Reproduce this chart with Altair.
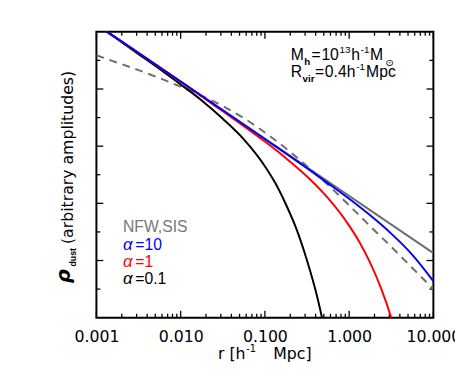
import pandas as pd
import altair as alt

# ---------------- data ----------------
# y is in "tick units" of the (arbitrary) log-density axis: 0 = bottom, 5 = top
X_TICK_VALUES = [0.001, 0.01, 0.1, 1, 10]
Y_MAJOR = [1, 2, 3, 4]
Y_MINOR = [0.5, 1.5, 2.5, 3.5, 4.5]

SIS_LOGR = [-3.0, 1.0]
SIS_Y = [5.13, 1.13]

NFW_LOGR = [-3.0, -2.75, -2.5, -2.25, -2.0, -1.75, -1.5, -1.25, -1.0, -0.75, -0.5,
            -0.25, 0.0, 0.25, 0.5, 0.75, 1.0]
NFW_Y = [4.59, 4.46, 4.33, 4.19, 4.04, 3.88, 3.70, 3.49, 3.24, 2.96, 2.65,
         2.32, 1.965, 1.60, 1.24, 0.87, 0.50]

A10_LOGR = [-3.0, -2.0, -1.0, -0.5, -0.25, 0.0, 0.25, 0.5, 0.75, 1.0]
A10_Y = [5.13, 4.13, 3.125, 2.614, 2.35, 2.08, 1.79, 1.47, 1.10, 0.64]

A1_LOGR = [-3.0, -2.5, -2.0, -1.75, -1.5, -1.25, -1.0, -0.75, -0.5, -0.25, 0.0,
           0.125, 0.25, 0.375, 0.5, 0.55]
A1_Y = [5.13, 4.63, 4.125, 3.87, 3.61, 3.35, 3.08, 2.79, 2.47, 2.09, 1.61,
        1.315, 0.96, 0.53, 0.0, -0.25]

A01_LOGR = [-3.0, -2.75, -2.5, -2.25, -2.0, -1.75, -1.5, -1.25, -1.0, -0.875,
            -0.75, -0.625, -0.5, -0.375, -0.3]
A01_Y = [5.125, 4.87, 4.61, 4.35, 4.08, 3.80, 3.48, 3.12, 2.65, 2.35,
         1.98, 1.55, 1.0, 0.34, -0.15]

W, H = 343, 291


def series(logr, y):
    return pd.DataFrame({"r": [10 ** v for v in logr], "y": y})


xs = alt.Scale(type="log", domain=[0.001, 10], nice=False)
ys = alt.Scale(domain=[0, 5], nice=False, zero=False)
xaxis = alt.Axis(values=X_TICK_VALUES, format=".3f", labelFont="DejaVu Sans",
                 labelFontSize=16, labelColor="black", labelPadding=11,
                 ticks=False, tickSize=0, domain=False, grid=False, title=None,
                 labelFlush=False, labelOverlap=False, labelBound=False)
X = alt.X("r:Q", scale=xs, axis=xaxis)
Y = alt.Y("y:Q", scale=ys, axis=None)


def line(df, color, dash=None):
    kw = dict(clip=True, strokeWidth=2, color=color, interpolate="monotone")
    if dash:
        kw["strokeDash"] = dash
    return alt.Chart(df).mark_line(**kw).encode(x=X, y=Y)


# ---- ticks (inward, IDL style) ----
x_minor = [k * 10 ** e for e in range(-3, 1) for k in range(2, 10)]
x_major = X_TICK_VALUES


def xticks(vals, length):
    d = pd.DataFrame({"r": vals})
    b = alt.Chart(d).mark_rule(color="black", strokeWidth=1.3).encode(
        x=X, y=alt.value(H), y2=alt.value(H - length))
    t = alt.Chart(d).mark_rule(color="black", strokeWidth=1.3).encode(
        x=X, y=alt.value(0), y2=alt.value(length))
    return b + t


def yticks(vals, length):
    d = pd.DataFrame({"y": vals})
    l = alt.Chart(d).mark_rule(color="black", strokeWidth=1.3).encode(
        y=Y, x=alt.value(0), x2=alt.value(length))
    r = alt.Chart(d).mark_rule(color="black", strokeWidth=1.3).encode(
        y=Y, x=alt.value(W), x2=alt.value(W - length))
    return l + r


def txt(s, x, y, size=16, color="black", font="DejaVu Sans", angle=0,
        style="normal", weight="normal", baseline="alphabetic"):
    kw = dict(align="left", baseline=baseline, font=font, fontSize=size,
              color=color, fontStyle=style, fontWeight=weight)
    if angle:
        kw["angle"] = angle
    return alt.Chart(pd.DataFrame({"t": [s]})).mark_text(**kw).encode(
        x=alt.value(x), y=alt.value(y), text="t:N")


OX, OY = 93, 29  # absolute position of plot origin in the picture
LS = "Liberation Sans"

texts = [
    # top-right annotation, line 1
    txt("M", 290.7 - OX, 58 - OY, font=LS),
    txt("h", 304.5 - OX, 63 - OY, size=10, font=LS, weight="bold"),
    txt("=", 312 - OX, 58 - OY, font=LS),
    txt("10", 322 - OX, 58 - OY, font=LS),
    txt("13", 340.5 - OX, 51 - OY, size=10, font=LS),
    txt("h", 352.5 - OX, 58 - OY, font=LS),
    txt("-1", 362 - OX, 51 - OY, size=10, font=LS),
    txt("M", 371.5 - OX, 58 - OY, font=LS),
    txt("\u2299", 387 - OX, 63.5 - OY, size=10, font="DejaVu Sans"),
    # line 2
    txt("R", 290.7 - OX, 75 - OY, font=LS),
    txt("vir", 302.8 - OX, 80 - OY, size=10, font=LS, weight="bold"),
    txt("=", 315.5 - OX, 75 - OY, font=LS),
    txt("0.4h", 325.5 - OX, 75 - OY, font=LS),
    txt("-1", 357.5 - OX, 68 - OY, size=10, font=LS),
    txt("Mpc", 367.5 - OX, 75 - OY, font=LS),
    # legend
    txt("NFW,SIS", 120 - OX, 233 - OY, color="#777777", font=LS),
    txt("\u03b1", 120 - OX, 251 - OY, color="blue", font=LS, size=17, style="italic"),
    txt("=10", 132.5 - OX, 251 - OY, color="blue", font=LS),
    txt("\u03b1", 120 - OX, 268 - OY, color="red", font=LS, size=17, style="italic"),
    txt("=1", 132.5 - OX, 268 - OY, color="red", font=LS),
    txt("\u03b1", 120 - OX, 286 - OY, color="black", font=LS, size=17, style="italic"),
    txt("=0.1", 132.5 - OX, 286 - OY, color="black", font=LS),
    # x title
    txt("r [h", 216.7 - OX, 362 - OY),
    txt("-1", 245.5 - OX, 355 - OY, size=10),
    txt("Mpc]", 273 - OX, 362 - OY),
    # y title (rotated)
    txt("\u03c1", 66 - OX, 285 - OY, size=20, style="italic", weight="bold", angle=270),
    txt("dust", 72 - OX, 268 - OY, size=9, font=LS, weight="bold", angle=270),
    txt("(arbitrary amplitudes)", 69 - OX, 245 - OY, angle=270),
]

layers = [
    xticks(x_minor, 4), xticks(x_major, 7),
    yticks(Y_MINOR, 4), yticks(Y_MAJOR, 7),
    line(series(SIS_LOGR, SIS_Y), "#6e6e6e"),
    line(series(NFW_LOGR, NFW_Y), "#6e6e6e", dash=[8, 6]),
    line(series(A01_LOGR, A01_Y), "black"),
    line(series(A1_LOGR, A1_Y), "#ff0000"),
    line(series(A10_LOGR, A10_Y), "#0000ff"),
] + texts

chart = alt.layer(*layers).properties(
    width=W, height=H,
    autosize=alt.AutoSizeParams(type="none"),
    padding={"left": 90, "top": 21, "right": 22, "bottom": 50},
).configure_view(stroke="black", strokeWidth=2)

chart.save("out.html", embed_options={"renderer": "svg", "actions": False})
